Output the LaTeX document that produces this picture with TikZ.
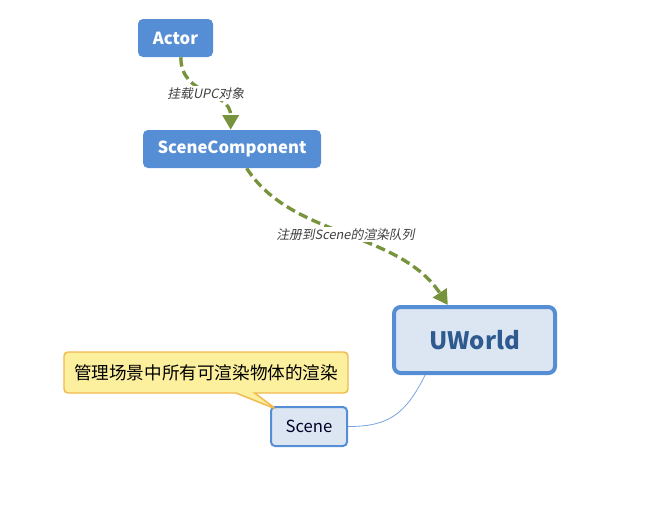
\documentclass[tikz,border=0pt]{standalone}
\usepackage{fontspec}
\setmainfont{Noto Sans CJK SC}
\newfontfamily\labfont[FakeSlant=0.2]{Noto Sans CJK SC}
\usetikzlibrary{arrows.meta,shapes.callouts}
\definecolor{boxblue}{HTML}{558ED5}
\definecolor{lightblue}{HTML}{DCE6F2}
\definecolor{darkblue}{HTML}{2F5A8F}
\definecolor{arrowgreen}{HTML}{77933C}
\definecolor{noteyellow}{HTML}{FCEF9E}
\definecolor{noteborder}{HTML}{F2B94E}
\definecolor{labgray}{HTML}{404040}
\tikzset{
  solidbox/.style={rectangle, rounded corners=3.75pt, fill=boxblue, text=white,
    font=\fontsize{12.5}{14}\selectfont\bfseries, minimum height=28.5pt, inner sep=0pt},
  mainbox/.style={rectangle, rounded corners=5pt, draw=boxblue, line width=3pt, fill=lightblue,
    text=darkblue, font=\fontsize{18}{21}\selectfont\bfseries, minimum width=120.75pt, minimum height=49.5pt},
  subbox/.style={rectangle, rounded corners=3pt, draw=boxblue, line width=1.5pt, fill=lightblue,
    text=black!85!blue, font=\fontsize{12.5}{14}\selectfont, minimum width=57pt, minimum height=29.25pt},
  notebox/.style={rectangle callout, rounded corners=3pt, draw=noteborder, line width=1.1pt, fill=noteyellow,
    font=\fontsize{13.2}{16}\selectfont, minimum width=213pt, minimum height=30.75pt, callout pointer width=14pt},
  greenarrow/.style={draw=arrowgreen, line width=2.5pt, dash pattern=on 7pt off 3.5pt,
    -{Triangle[length=11pt,width=12pt]}},
  bluelink/.style={draw=boxblue!80, line width=0.6pt},
  conlabel/.style={fill=white, text=labgray, font=\labfont\fontsize{9.6}{11}\selectfont, inner sep=1pt}
}
\begin{document}
\begin{tikzpicture}[x=0.75pt,y=0.75pt]
\useasboundingbox (0,0) rectangle (652,-522);
\node[solidbox, minimum width=56.25pt] (actor) at (175.5,-38) {Actor};
\node[solidbox, minimum width=133.5pt] (sc) at (232,-149) {SceneComponent};
\node[mainbox] (uworld) at (474.5,-340) {UWorld};
\node[subbox] (scene) at (309,-426.5) {Scene};
\node[notebox, callout absolute pointer={(276,-409)}] (note) at (206,-372.5) {管理场景中所有可渲染物体的渲染};
\draw[greenarrow] ([xshift=4pt]actor.south) .. controls +(0,-40) and +(0,40) .. ([xshift=-1pt]sc.north)
  node[conlabel, pos=0.5] {挂载UPC对象};
\draw[greenarrow] ([xshift=11pt]sc.south) .. controls +(45,-70) and +(-50,75) .. ([xshift=-20pt]uworld.north)
  node[conlabel, pos=0.5] {注册到Scene的渲染队列};
\draw[bluelink] ([xshift=-37pt]uworld.south) .. controls +(-20,-40) and +(40,0) .. (scene.east);
\end{tikzpicture}
\end{document}
